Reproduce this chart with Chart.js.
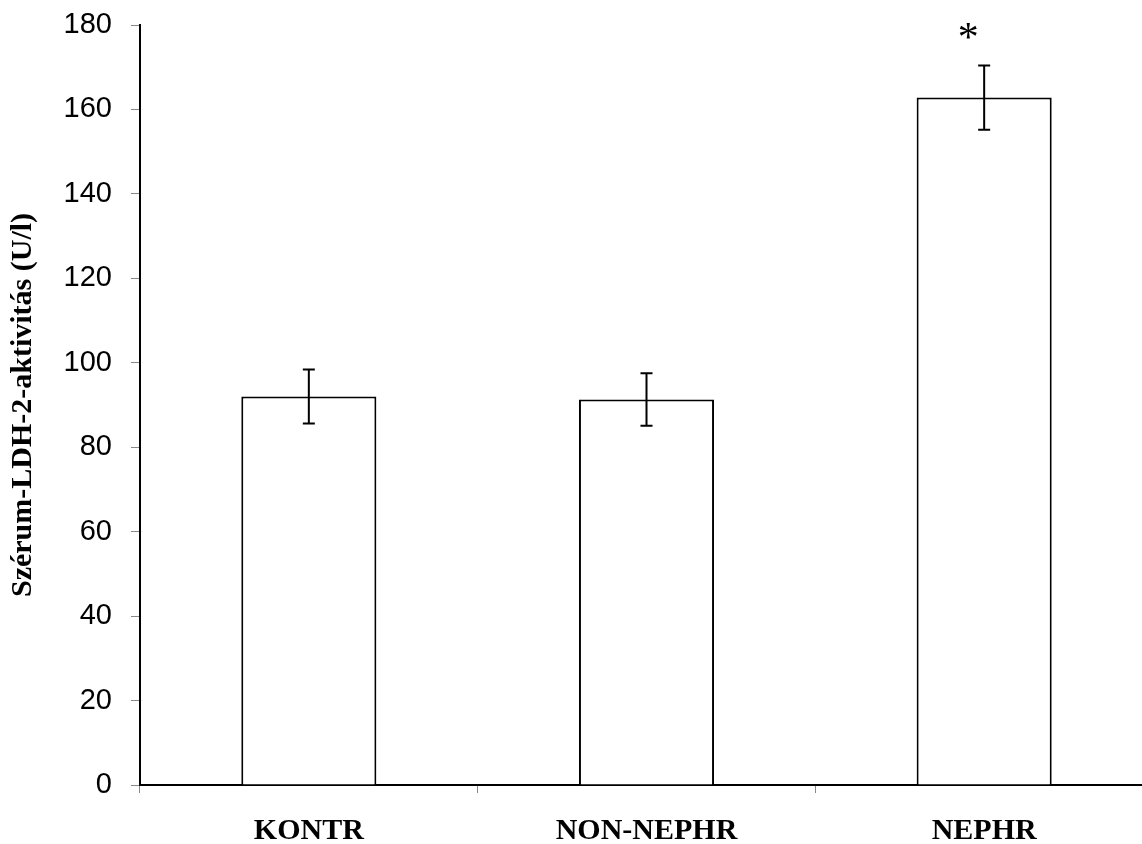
<!DOCTYPE html>
<html>
<head>
<meta charset="utf-8">
<script src="https://cdn.jsdelivr.net/npm/chart.js@4"></script>
<style>
  html, body { margin: 0; padding: 0; background: #fff; overflow: hidden; }
  canvas { display: block; }
</style>
</head>
<body>
<canvas id="c" width="1153" height="844"></canvas>
<script>
// Serum LDH-2 activity per group (U/l), mean with ± error
const categories = ['KONTR', 'NON-NEPHR', 'NEPHR'];
const means = [92.0, 91.3, 162.8];
const errors = [6.4, 6.2, 7.6];
const significance = ['', '', '*'];
const yTicks = [0, 20, 40, 60, 80, 100, 120, 140, 160, 180];

const errorBarPlugin = {
  id: 'errorBars',
  afterDatasetsDraw(chart) {
    const ctx = chart.ctx;
    const meta = chart.getDatasetMeta(0);
    const y = chart.scales.y;
    ctx.save();
    ctx.strokeStyle = '#000';
    ctx.lineWidth = 2;
    meta.data.forEach((bar, i) => {
      const x = bar.x;
      const top = y.getPixelForValue(means[i] + errors[i]);
      const bot = y.getPixelForValue(means[i] - errors[i]);
      const cap = 6;
      ctx.beginPath();
      ctx.moveTo(x, top); ctx.lineTo(x, bot);
      ctx.moveTo(x - cap, top); ctx.lineTo(x + cap, top);
      ctx.moveTo(x - cap, bot); ctx.lineTo(x + cap, bot);
      ctx.stroke();
      if (significance[i]) {
        ctx.fillStyle = '#000';
        ctx.font = '42px "Liberation Serif", "Times New Roman", serif';
        ctx.textAlign = 'center';
        ctx.textBaseline = 'alphabetic';
        ctx.fillText(significance[i], x - 16, top - 15);
      }
    });
    ctx.restore();
  }
};

new Chart(document.getElementById('c'), {
  type: 'bar',
  data: {
    labels: categories,
    datasets: [{
      data: means,
      backgroundColor: '#ffffff',
      borderColor: '#000000',
      borderWidth: 2,
      borderSkipped: 'bottom',
      categoryPercentage: 0.4,
      barPercentage: 1.0
    }]
  },
  options: {
    responsive: false,
    animation: false,
    layout: { padding: { top: 25, left: 0, right: 0, bottom: 0 } },
    plugins: { legend: { display: false }, tooltip: { enabled: false } },
    scales: {
      x: {
        grid: { drawOnChartArea: false, drawTicks: true, tickLength: 8, color: '#888888', lineWidth: 1 },
        border: { display: true, color: '#000000', width: 2 },
        ticks: {
          color: '#000000',
          padding: 20,
          font: { family: '"Liberation Serif", "Times New Roman", serif', size: 30, weight: 'bold' }
        },
        afterFit(scale) { scale.height = 59; scale.paddingLeft = 0; scale.paddingRight = 0; }
      },
      y: {
        min: 0,
        max: 180,
        afterBuildTicks(scale) { scale.ticks = yTicks.map(v => ({ value: v })); },
        grid: { drawOnChartArea: false, drawTicks: true, tickLength: 9, color: '#888888', lineWidth: 1 },
        border: { display: true, color: '#000000', width: 2 },
        ticks: {
          color: '#000000',
          padding: 19,
          font: { family: '"Liberation Sans", Arial, sans-serif', size: 29 }
        },
        title: {
          display: true,
          text: 'Szérum-LDH-2-aktivitás (U/l)',
          color: '#000000',
          padding: { top: 5, bottom: 0 },
          font: { family: '"Liberation Serif", "Times New Roman", serif', size: 30, weight: 'bold' }
        },
        afterFit(scale) { scale.width = 140; scale.paddingTop = 0; scale.paddingBottom = 0; }
      }
    }
  },
  plugins: [errorBarPlugin]
});
</script>
</body>
</html>
